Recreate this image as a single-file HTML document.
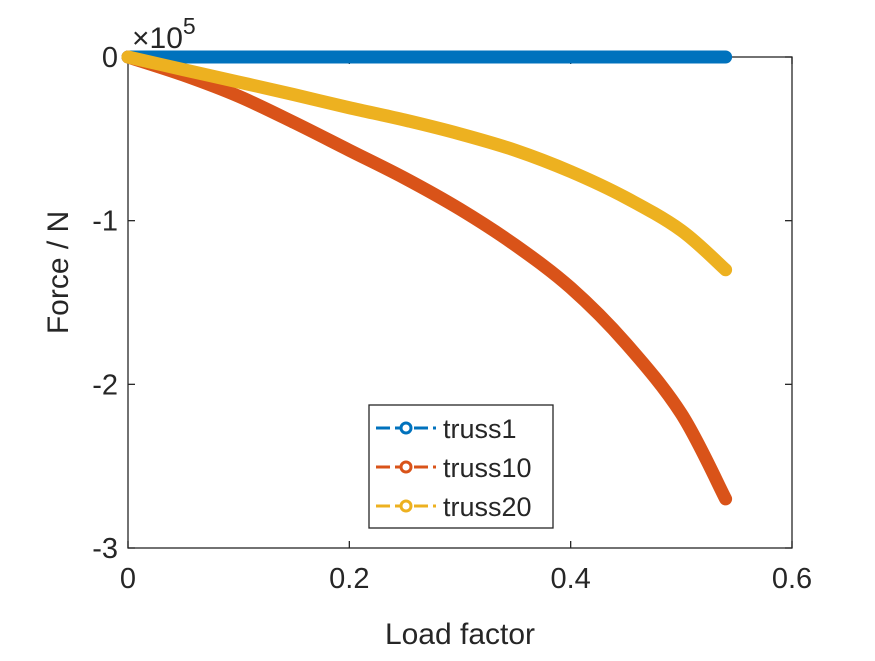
<!DOCTYPE html>
<html><head><meta charset="utf-8"><style>
body{margin:0;background:#fff;}
svg text{font-family:"Liberation Sans",Arial,sans-serif;fill:#262626;}
</style></head><body>
<svg width="875" height="656" xmlns="http://www.w3.org/2000/svg">
<rect width="875" height="656" fill="#fff"/>
<g id="plot"></g>
</svg>
<script>
const xVals=[0,0.05,0.1,0.15,0.2,0.25,0.3,0.35,0.4,0.45,0.5,0.54];
const truss1=[0,0,0,0,0,0,0,0,0,0,0,0];
const truss10=[0,-0.11,-0.24,-0.4,-0.57,-0.74,-0.93,-1.15,-1.41,-1.75,-2.18,-2.7];
const truss20=[0,-0.077,-0.153,-0.23,-0.31,-0.385,-0.47,-0.57,-0.7,-0.86,-1.06,-1.3];
const xTicks=[0,0.2,0.4,0.6];
const yTicks=[0,-1,-2,-3];
const seriesNames=['truss1','truss10','truss20'];
const colors=['#0072BD','#D95319','#EDB120'];
const L=128,R=792,T=57,B=548;
const xs=v=>L+(v-0)/0.6*(R-L);
const ys=v=>T+(0-v)/3*(B-T);
const g=document.getElementById('plot');
const NS='http://www.w3.org/2000/svg';
function mk(t,a){const e=document.createElementNS(NS,t);for(const k in a)e.setAttribute(k,a[k]);g.appendChild(e);return e;}
function smooth(pts){
 let d='M'+pts[0][0]+','+pts[0][1];
 for(let i=0;i<pts.length-1;i++){
  const p0=pts[Math.max(0,i-1)],p1=pts[i],p2=pts[i+1],p3=pts[Math.min(pts.length-1,i+2)];
  const c1=[p1[0]+(p2[0]-p0[0])/6,p1[1]+(p2[1]-p0[1])/6];
  const c2=[p2[0]-(p3[0]-p1[0])/6,p2[1]-(p3[1]-p1[1])/6];
  d+=' C'+c1[0]+','+c1[1]+' '+c2[0]+','+c2[1]+' '+p2[0]+','+p2[1];
 }
 return d;
}
const box=mk('rect',{x:L,y:T,width:R-L,height:B-T,fill:'#fff',stroke:'#262626','stroke-width':1.3});


xTicks.forEach(v=>{
 const l=mk('line',{x1:xs(v),x2:xs(v),y1:B,y2:B-7,stroke:'#262626','stroke-width':1.3});
 
 
 const l2=mk('line',{x1:xs(v),x2:xs(v),y1:T,y2:T+7,stroke:'#262626','stroke-width':1.3});
 
 
 const t=mk('text',{x:xs(v),y:B+40,'font-size':29,'text-anchor':'middle'});t.textContent=String(v);
 
 
});
yTicks.forEach(v=>{
 const l=mk('line',{x1:L,x2:L+7,y1:ys(v),y2:ys(v),stroke:'#262626','stroke-width':1.3});
 
 
 const l2=mk('line',{x1:R,x2:R-7,y1:ys(v),y2:ys(v),stroke:'#262626','stroke-width':1.3});
 
 
 const t=mk('text',{x:L-10,y:ys(v)+10,'font-size':29,'text-anchor':'end'});t.textContent=String(v);
 
 
});
const ex=mk('text',{x:132,y:48,'font-size':30});ex.innerHTML='×10<tspan dy="-14" font-size="23">5</tspan>';


const xt=mk('text',{x:(L+R)/2,y:644,'font-size':30,'text-anchor':'middle'});xt.textContent='Load factor';


const yt=mk('text',{x:0,y:0,'font-size':30,'text-anchor':'middle',transform:`translate(68,${(T+B)/2-30}) rotate(-90)`});yt.textContent='Force / N';


[truss1,truss10,truss20].forEach((s,i)=>{
 const pts=s.map((v,j)=>[xs(xVals[j]),ys(v)]);
 const p=mk('path',{d:smooth(pts),fill:'none',stroke:colors[i],'stroke-width':13,'stroke-linecap':'round','stroke-linejoin':'round'});
 
 
});
const lg=mk('rect',{x:369,y:405,width:184,height:123,fill:'#fff',stroke:'#262626','stroke-width':1.3});


seriesNames.forEach((n,i)=>{
 const y=428+i*39;
 const l=mk('line',{x1:376,x2:436,y1:y,y2:y,stroke:colors[i],'stroke-width':3,'stroke-dasharray':'14,5'});
 
 
 const c=mk('circle',{cx:406,cy:y,r:5,fill:'#fff',stroke:colors[i],'stroke-width':3});
 
 
 const t=mk('text',{x:443,y:y+10,'font-size':27,fill:'#000'});t.textContent=n;
 
 
});
</script>
</body></html>
